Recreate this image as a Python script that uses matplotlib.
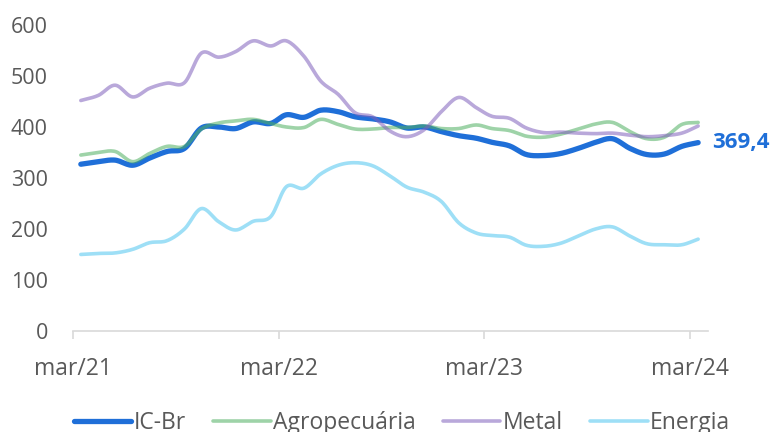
import numpy as np
import pandas as pd
import matplotlib
matplotlib.use('Agg')
import matplotlib.pyplot as plt
import matplotlib.dates as mdates

# monthly index values, mar/21 .. mar/24 (mid-month)
dates = pd.date_range('2021-03-01', periods=37, freq='MS') + pd.Timedelta(days=14)
ic_br = [327, 332, 335, 325, 339, 352, 358, 398, 400, 397, 410, 407, 424,
         419, 433, 430, 420, 416, 410, 398, 400, 391, 383, 378, 370, 363,
         346, 344, 348, 358, 370, 377, 358, 346, 347, 362, 369.4]
agro = [345, 350, 352, 332, 348, 362, 362, 396, 408, 412, 415, 407, 400,
        399, 415, 405, 396, 396, 399, 399, 402, 397, 397, 404, 397, 393,
        382, 380, 386, 396, 406, 409, 391, 377, 380, 405, 409]
metal = [452, 462, 482, 459, 476, 486, 487, 545, 537, 548, 569, 559, 569,
         539, 490, 464, 428, 420, 392, 381, 395, 430, 458, 438, 421, 417,
         398, 389, 390, 388, 387, 388, 384, 381, 383, 388, 402]
energia = [150, 152, 153, 160, 173, 177, 200, 240, 214, 198, 215, 224, 283,
           280, 308, 325, 330, 324, 304, 282, 272, 254, 212, 192, 187, 184,
           168, 166, 172, 186, 200, 204, 186, 171, 169, 169, 180]
tick_dates = pd.to_datetime(['2021-03-01', '2022-03-01', '2023-03-01', '2024-03-01'])
tick_labels = ['mar/21', 'mar/22', 'mar/23', 'mar/24']

plt.rcParams['font.family'] = ['Open Sans', 'DejaVu Sans']


def smooth(x, y, n=12):
    # catmull-rom curve through the points (like excel's smoothed line)
    x = np.asarray(x, float)
    y = np.asarray(y, float)
    px = np.concatenate([[2 * x[0] - x[1]], x, [2 * x[-1] - x[-2]]])
    py = np.concatenate([[2 * y[0] - y[1]], y, [2 * y[-1] - y[-2]]])
    t = np.linspace(0, 1, n, endpoint=False)
    xs, ys = [], []
    for i in range(1, len(px) - 2):
        for p, out in ((px, xs), (py, ys)):
            p0, p1, p2, p3 = p[i - 1], p[i], p[i + 1], p[i + 2]
            out.append(0.5 * (2 * p1 + (-p0 + p2) * t
                              + (2 * p0 - 5 * p1 + 4 * p2 - p3) * t ** 2
                              + (-p0 + 3 * p1 - 3 * p2 + p3) * t ** 3))
    xs.append([x[-1]])
    ys.append([y[-1]])
    return np.concatenate(xs), np.concatenate(ys)


xnum = mdates.date2num(dates)

fig = plt.figure(figsize=(7.76, 4.32), dpi=100)
ax = fig.add_axes([0.094, 0.234, 0.818, 0.708])

series = [
    ('IC-Br', ic_br, '#1f6fd8', 1.0, 3.8),
    ('Agropecuária', agro, '#4faf61', 0.55, 2.6),
    ('Metal', metal, '#8061bc', 0.55, 2.6),
    ('Energia', energia, '#4fc5f0', 0.55, 2.6),
]
for name, vals, col, a, lw in series:
    sx, sy = smooth(xnum, vals)
    ax.plot(sx, sy, color=col, alpha=a, lw=lw, label=name,
            solid_capstyle='round')

ax.text(xnum[-1] + 25, ic_br[-1], '369,4', color='#1f6fd8', fontsize=16,
        fontweight='bold', va='center', ha='left')

ax.set_ylim(0, 600)
ax.set_yticks(range(0, 601, 100))
ax.set_xlim(mdates.date2num(pd.Timestamp('2021-03-01')),
            mdates.date2num(pd.Timestamp('2024-04-01')))
ax.set_xticks(mdates.date2num(tick_dates))
ax.set_xticklabels(tick_labels)

for s in ['top', 'right', 'left']:
    ax.spines[s].set_visible(False)
ax.spines['bottom'].set_color('#d9d9d9')
ax.spines['bottom'].set_linewidth(1.2)
ax.tick_params(axis='y', length=0, pad=18, labelsize=15.5, labelcolor='#595959')
ax.tick_params(axis='x', length=6, width=1.2, color='#d9d9d9', pad=13,
               labelsize=16.5, labelcolor='#595959')

leg = fig.legend(loc='center', bbox_to_anchor=(0.518, 0.02), ncol=4,
                 frameon=False, fontsize=16.5, handlelength=2.5,
                 handletextpad=0.1, columnspacing=1.2)
for t in leg.get_texts():
    t.set_color('#595959')

fig.savefig('out.png', dpi=100)
